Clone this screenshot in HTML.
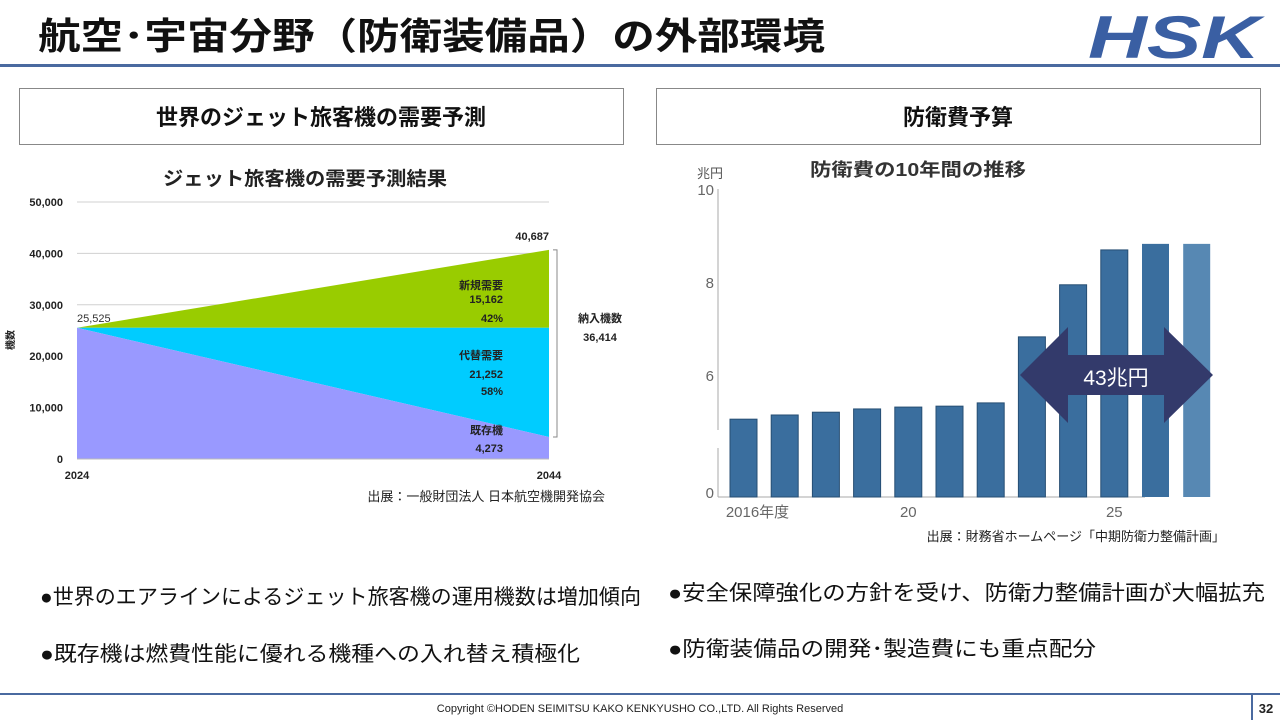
<!DOCTYPE html>
<html><head><meta charset="utf-8">
<style>
body{margin:0;width:1280px;height:720px;overflow:hidden;background:#fff;font-family:"Liberation Sans","Noto Sans CJK JP",sans-serif;}
svg text{font-family:"Liberation Sans","Noto Sans CJK JP",sans-serif;}
</style></head>
<body>
<svg width="1280" height="720" viewBox="0 0 1280 720" xmlns="http://www.w3.org/2000/svg">
  <text x="38" y="49" font-size="37" font-weight="bold" fill="#111" textLength="787" lengthAdjust="spacingAndGlyphs">航空･宇宙分野（防衛装備品）の外部環境</text>
  <g>
    <text x="1088" y="58" font-size="60" font-weight="900" font-style="italic" fill="#3a5fa3" textLength="172" lengthAdjust="spacingAndGlyphs">HSK</text>
  </g>
  <rect x="0" y="64" width="1280" height="3" fill="#4a6aa0"/>

  <rect x="19.5" y="88.5" width="604" height="56" fill="#fff" stroke="#888"/>
  <text x="321" y="125" font-size="22" font-weight="bold" text-anchor="middle" fill="#111">世界のジェット旅客機の需要予測</text>
  <rect x="656.5" y="88.5" width="604" height="56" fill="#fff" stroke="#888"/>
  <text x="958" y="125" font-size="22" font-weight="bold" text-anchor="middle" fill="#111">防衛費予算</text>

  <g id="leftChart"></g>
  <g id="rightChart"></g>

  <text x="40" y="604" font-size="21" fill="#111" textLength="601" lengthAdjust="spacingAndGlyphs">●世界のエアラインによるジェット旅客機の運用機数は増加傾向</text>
  <text x="40" y="661" font-size="21" fill="#111" textLength="540" lengthAdjust="spacingAndGlyphs">●既存機は燃費性能に優れる機種への入れ替え積極化</text>
  <text x="668" y="600" font-size="21" fill="#111" textLength="597" lengthAdjust="spacingAndGlyphs">●安全保障強化の方針を受け、防衛力整備計画が大幅拡充</text>
  <text x="668" y="656" font-size="21" fill="#111" textLength="428" lengthAdjust="spacingAndGlyphs">●防衛装備品の開発･製造費にも重点配分</text>

  <rect x="0" y="693" width="1280" height="2" fill="#4a6aa0"/>
  <rect x="1251" y="693" width="2" height="27" fill="#4a6aa0"/>
  <text x="640" y="712" font-size="11" text-anchor="middle" fill="#222">Copyright ©HODEN SEIMITSU KAKO KENKYUSHO CO.,LTD. All Rights Reserved</text>
  <text x="1266" y="713" font-size="13" font-weight="bold" text-anchor="middle" fill="#222">32</text>
</svg>
<script>
const NS='http://www.w3.org/2000/svg';
function mk(parent,tag,attrs,txt){const e=document.createElementNS(NS,tag);for(const k in attrs)e.setAttribute(k,attrs[k]);if(txt!==undefined)e.textContent=txt;parent.appendChild(e);return e;}

// ---- Left chart data ----
const jetYears=['2024','2044'];
const jetStart=[25525];
const jetExisting=[25525,4273];
const jetTotal=[25525,40687];
const jetYTicks=[0,10000,20000,30000,40000,50000];
const jetLabels=['新規需要','15,162','42%','代替需要','21,252','58%','既存機','4,273'];

// ---- Right chart data ----
const budgetYears=['2016','2017','2018','2019','2020','2021','2022','2023','2024','2025','2026','2027'];
const budgetValues=[5.05,5.14,5.2,5.27,5.31,5.33,5.4,6.82,7.94,8.69,8.82,8.82];
const budgetYTicks=[0,6,8,10];
const budgetXLabels=[{i:0,t:'2016年度'},{i:4,t:'20'},{i:9,t:'25'}];

(function(){
 const g=document.getElementById('leftChart');
 const x0=77,x1=549,yb=459,yt=202;
 const X=i=>x0+(x1-x0)*i/(jetYears.length-1);
 const Y=v=>yb-(yb-yt)*v/50000;
 mk(g,'text',{x:305,y:185,'font-size':19,'font-weight':'bold','text-anchor':'middle',fill:'#222',textLength:284,lengthAdjust:'spacingAndGlyphs'},'ジェット旅客機の需要予測結果');
 jetYTicks.forEach(v=>{
  if(v>0){const l=mk(g,'line',{x1:x0,x2:x1,y1:Y(v),y2:Y(v),stroke:'#d0d0d0','stroke-width':1});
  
  }
  const t=mk(g,'text',{x:63,y:Y(v)+4,'font-size':11,'font-weight':'bold','text-anchor':'end',fill:'#222'},v.toLocaleString('en-US'));
  
  
 });
 const yl=mk(g,'text',{x:0,y:0,'font-size':10,'font-weight':'bold',fill:'#222','text-anchor':'middle',transform:'translate(14,340) rotate(-90)'},'機数');
 
 
 const s=jetStart[0];
 const green=mk(g,'polygon',{points:`${X(0)},${Y(s)} ${X(1)},${Y(jetTotal[1])} ${X(1)},${Y(s)}`,fill:'#99cc00'});
 
 
 const cyan=mk(g,'polygon',{points:`${X(0)},${Y(s)} ${X(1)},${Y(s)} ${X(1)},${Y(jetExisting[1])}`,fill:'#00ccff'});
 
 
 const purp=mk(g,'polygon',{points:`${X(0)},${Y(jetExisting[0])} ${X(1)},${Y(jetExisting[1])} ${X(1)},${Y(0)} ${X(0)},${Y(0)}`,fill:'#9999ff'});
 
 
 mk(g,'line',{x1:x0,x2:x1,y1:yb,y2:yb,stroke:'#bbb'});
 jetYears.forEach((y,i)=>{const t=mk(g,'text',{x:X(i),y:479,'font-size':11,'font-weight':'bold','text-anchor':'middle',fill:'#222'},y);
  
  });
 mk(g,'text',{x:X(0),y:Y(s)-6,'font-size':11,fill:'#333'},s.toLocaleString('en-US'));
 mk(g,'text',{x:X(1),y:Y(jetTotal[1])-10,'font-size':11,'font-weight':'bold','text-anchor':'end',fill:'#222'},jetTotal[1].toLocaleString('en-US'));
 const ly=[289,303,322,359,378,395,434,452];
 jetLabels.forEach((t,i)=>mk(g,'text',{x:503,y:ly[i],'font-size':11,'font-weight':'bold','text-anchor':'end',fill:'#222'},t));
 mk(g,'path',{d:`M553,${Y(jetTotal[1])} h4 V${Y(jetExisting[1])} h-4`,stroke:'#888',fill:'none'});
 mk(g,'text',{x:600,y:322,'font-size':11,'font-weight':'bold','text-anchor':'middle',fill:'#222'},'納入機数');
 mk(g,'text',{x:600,y:341,'font-size':11,'font-weight':'bold','text-anchor':'middle',fill:'#222'},(jetTotal[1]-jetExisting[1]).toLocaleString('en-US'));
 mk(g,'text',{x:605,y:501,'font-size':13,'text-anchor':'end',fill:'#222'},'出展：一般財団法人 日本航空機開発協会');
})();

(function(){
 const g=document.getElementById('rightChart');
 const Y=v=>375-(v-6)*46.5;
 const yb=497, ax=718;
 const X=i=>730+i*41.2;
 const bw=27;
 mk(g,'text',{x:918,y:176,'font-size':18,'font-weight':'bold','text-anchor':'middle',fill:'#333',textLength:216,lengthAdjust:'spacingAndGlyphs'},'防衛費の10年間の推移');
 mk(g,'text',{x:697,y:178,'font-size':13,fill:'#555'},'兆円');
 mk(g,'line',{x1:ax,x2:ax,y1:189,y2:430,stroke:'#aaa'});
 mk(g,'line',{x1:ax,x2:ax,y1:448,y2:yb,stroke:'#aaa'});
 mk(g,'line',{x1:ax,x2:1145,y1:yb,y2:yb,stroke:'#aaa'});
 budgetYTicks.forEach(v=>{
  const yy=v===0?492:Y(v);
  const t=mk(g,'text',{x:714,y:yy+6,'font-size':15,'text-anchor':'end',fill:'#666'},String(v));
  
  
 });
 budgetValues.forEach((v,i)=>{
  const fill=i===11?'#5788b3':'#3a6e9e';
  const r=mk(g,'rect',{x:X(i),y:Y(v),width:bw,height:yb-Y(v),fill:fill,stroke:i<10?'#264e73':'none','stroke-width':1});
  
  
 });
 budgetXLabels.forEach(o=>{
  const t=mk(g,'text',{x:X(o.i)+bw/2+(o.i===0?14:0),y:517,'font-size':15,'text-anchor':'middle',fill:'#666'},o.t);
  
  
 });
 const ar=mk(g,'polygon',{points:'1020,375 1068,327 1068,355 1164,355 1164,327 1213,375 1164,423 1164,395 1068,395 1068,423',fill:'#333a6b'});
 
 
 mk(g,'text',{x:1116,y:385,'font-size':21,'text-anchor':'middle',fill:'#fff'},'43兆円');
 mk(g,'text',{x:1225,y:541,'font-size':13,'text-anchor':'end',fill:'#222'},'出展：財務省ホームページ「中期防衛力整備計画」');
})();
</script>
</body></html>
